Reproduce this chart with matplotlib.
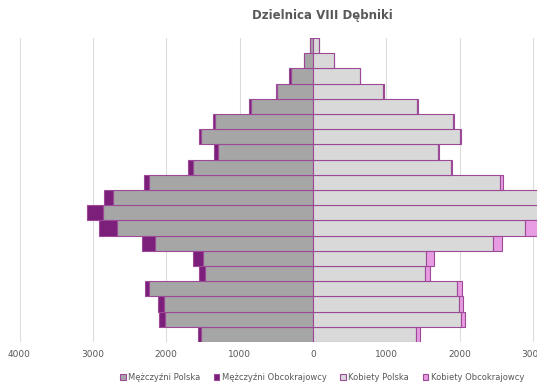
import matplotlib
matplotlib.use("Agg")
import matplotlib.pyplot as plt
from matplotlib.patches import Patch
import numpy as np

plt.rcParams['font.family'] = ['DejaVu Sans']

age_groups = ['0-4', '5-9', '10-14', '15-19', '20-24', '25-29', '30-34', '35-39',
              '40-44', '45-49', '50-54', '55-59', '60-64', '65-69', '70-74',
              '75-79', '80-84', '85-89', '90-94', '95+']

men_polska = [1526, 2016, 2035, 2230, 1471, 1504, 2158, 2676, 2866, 2721,
              2230, 1640, 1300, 1530, 1340, 850, 490, 305, 122, 36]
men_obcokr = [41, 78, 73, 55, 78, 127, 172, 245, 218, 122,
              72, 63, 45, 20, 18, 18, 14, 20, 5, 2]
women_polska = [1403, 2011, 1993, 1966, 1521, 1540, 2447, 2893, 3300, 3150,
                2555, 1885, 1700, 2000, 1910, 1420, 960, 640, 290, 80]
women_obcokr = [55, 55, 55, 59, 68, 103, 123, 200, 150, 80,
                30, 15, 12, 12, 12, 6, 5, 5, 3, 2]

labels = ['Mężczyźni Polska', 'Mężczyźni Obcokrajowcy', 'Kobiety Polska', 'Kobiety Obcokrajowcy']
colors = ['#A6A6A6', '#7B1F7A', '#D9D9D9', '#E79CE2']
edge = '#9C4A98'

fig = plt.figure(figsize=(5.37, 3.90), dpi=100)
W, H = 537, 390
ax = fig.add_axes([19.5 / W, 48 / H, 587 / W, 304 / H])

y = np.arange(len(age_groups))
mp = np.array(men_polska)
mf = np.array(men_obcokr)
wp = np.array(women_polska)
wf = np.array(women_obcokr)

lw = 0.8
ax.barh(y, -mp, height=1.0, color=colors[0], edgecolor=edge, linewidth=lw, zorder=3)
ax.barh(y, -mf, left=-mp, height=1.0, color=colors[1], edgecolor=edge, linewidth=lw, zorder=3)
ax.barh(y, wp, height=1.0, color=colors[2], edgecolor=edge, linewidth=lw, zorder=3)
ax.barh(y, wf, left=wp, height=1.0, color=colors[3], edgecolor=edge, linewidth=lw, zorder=3)

ax.set_xlim(-4000, 4000)
ax.set_ylim(-0.5, len(age_groups) - 0.5)
ticks = np.arange(-4000, 4001, 1000)
ax.set_xticks(ticks)
ax.set_xticklabels([str(abs(int(t))) for t in ticks], fontsize=6.5, color='#595959')
ax.set_yticks([])
ax.tick_params(axis='x', length=0, pad=6)
ax.grid(axis='x', color='#DCDCDC', linewidth=0.8, zorder=0)
for s in ax.spines.values():
    s.set_visible(False)

fig.text(322 / W, 1 - 15 / H, 'Dzielnica VIII Dębniki', ha='center', va='center',
         fontsize=8.5, fontweight='bold', color='#595959')

handles = [Patch(facecolor=c, edgecolor=edge, linewidth=0.8) for c in colors]
fig.legend(handles, labels, loc='center', bbox_to_anchor=(322 / W, 1 - 377 / H), ncol=4,
           frameon=False, fontsize=6.0, labelcolor='#595959', handlelength=0.7,
           handleheight=0.7, handletextpad=0.3, columnspacing=1.6)

fig.savefig('out.png', dpi=100)
